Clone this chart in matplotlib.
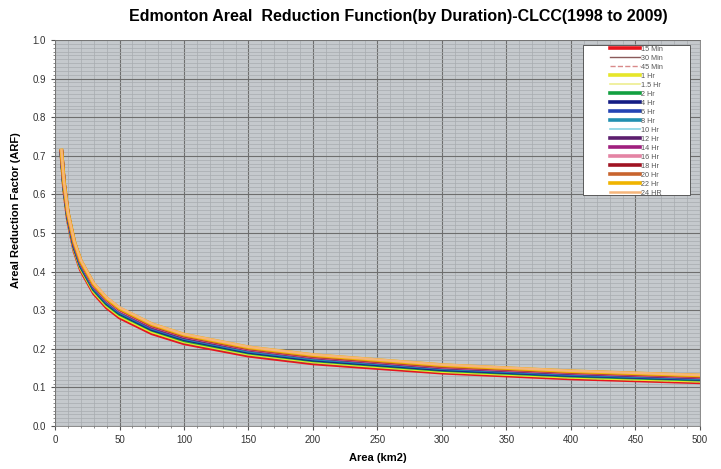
import matplotlib
matplotlib.use('Agg')
import matplotlib.pyplot as plt
from matplotlib.ticker import MultipleLocator
from matplotlib.patches import Rectangle

plt.rcParams['font.family'] = ['Liberation Sans', 'DejaVu Sans']

# Area points (km2) where the curves were read
area = [5, 7, 10, 15, 20, 30, 40, 50, 75, 100, 150, 200, 300, 400, 500]

# ARF values per duration
arf_15min = [0.700, 0.613, 0.532, 0.453, 0.404, 0.344, 0.307, 0.281, 0.240, 0.214, 0.182, 0.162, 0.138, 0.123, 0.113]
arf_30min = [0.701, 0.614, 0.533, 0.455, 0.406, 0.346, 0.309, 0.283, 0.242, 0.215, 0.183, 0.163, 0.139, 0.124, 0.114]
arf_45min = [0.702, 0.615, 0.535, 0.456, 0.407, 0.347, 0.310, 0.284, 0.243, 0.217, 0.185, 0.165, 0.141, 0.125, 0.115]
arf_1hr = [0.703, 0.617, 0.536, 0.458, 0.409, 0.349, 0.312, 0.286, 0.245, 0.219, 0.187, 0.167, 0.142, 0.127, 0.117]
arf_1_5hr = [0.704, 0.618, 0.538, 0.460, 0.411, 0.351, 0.314, 0.288, 0.247, 0.221, 0.188, 0.168, 0.144, 0.128, 0.118]
arf_2hr = [0.705, 0.620, 0.540, 0.462, 0.413, 0.353, 0.316, 0.290, 0.249, 0.222, 0.190, 0.170, 0.145, 0.130, 0.120]
arf_4hr = [0.707, 0.622, 0.542, 0.464, 0.416, 0.356, 0.319, 0.293, 0.251, 0.225, 0.192, 0.172, 0.147, 0.132, 0.122]
arf_6hr = [0.708, 0.623, 0.543, 0.466, 0.418, 0.358, 0.321, 0.295, 0.253, 0.227, 0.194, 0.174, 0.149, 0.133, 0.123]
arf_8hr = [0.709, 0.624, 0.545, 0.468, 0.419, 0.359, 0.322, 0.296, 0.255, 0.228, 0.195, 0.175, 0.150, 0.135, 0.124]
arf_10hr = [0.709, 0.625, 0.546, 0.469, 0.420, 0.360, 0.323, 0.297, 0.256, 0.229, 0.196, 0.176, 0.151, 0.136, 0.125]
arf_12hr = [0.710, 0.626, 0.547, 0.470, 0.422, 0.362, 0.325, 0.299, 0.257, 0.230, 0.198, 0.178, 0.152, 0.137, 0.126]
arf_14hr = [0.711, 0.627, 0.548, 0.471, 0.423, 0.363, 0.326, 0.300, 0.258, 0.232, 0.199, 0.179, 0.153, 0.138, 0.127]
arf_16hr = [0.712, 0.628, 0.549, 0.473, 0.424, 0.364, 0.327, 0.301, 0.260, 0.233, 0.200, 0.180, 0.154, 0.139, 0.128]
arf_18hr = [0.712, 0.629, 0.550, 0.474, 0.426, 0.366, 0.329, 0.303, 0.261, 0.234, 0.201, 0.181, 0.155, 0.140, 0.129]
arf_20hr = [0.713, 0.630, 0.551, 0.475, 0.427, 0.367, 0.330, 0.304, 0.262, 0.235, 0.202, 0.182, 0.156, 0.141, 0.130]
arf_22hr = [0.714, 0.631, 0.553, 0.477, 0.428, 0.368, 0.331, 0.305, 0.264, 0.237, 0.204, 0.184, 0.158, 0.142, 0.131]
arf_24hr = [0.715, 0.632, 0.554, 0.478, 0.430, 0.370, 0.333, 0.307, 0.265, 0.238, 0.205, 0.185, 0.159, 0.143, 0.132]

labels = ['15 Min', '30 Min', '45 Min', '1 Hr', '1.5 Hr', '2 Hr', '4 Hr', '6 Hr', '8 Hr',
          '10 Hr', '12 Hr', '14 Hr', '16 Hr', '18 Hr', '20 Hr', '22 Hr', '24 HR']
series = [arf_15min, arf_30min, arf_45min, arf_1hr, arf_1_5hr, arf_2hr, arf_4hr, arf_6hr, arf_8hr,
          arf_10hr, arf_12hr, arf_14hr, arf_16hr, arf_18hr, arf_20hr, arf_22hr, arf_24hr]
colors = ['#e8141c', '#8a5a5a', '#d98a8a', '#e6e62a', '#eeee90', '#12a040', '#141c84', '#2444b4',
          '#2290b0', '#86d4e4', '#5c1e6e', '#a0207e', '#e484a4', '#a01422', '#c8642e', '#f0b400', '#f5b57a']
widths = [2.6, 1.0, 1.0, 2.6, 1.2, 2.6, 2.6, 2.6, 2.6, 1.2, 2.6, 2.6, 2.6, 2.6, 2.6, 2.6, 1.8]
styles = ['-', '-', '--', '-', '-', '-', '-', '-', '-', '-', '-', '-', '-', '-', '-', '-', '-']

fig = plt.figure(figsize=(7.21, 4.69), dpi=100)
ax = fig.add_axes([0.0763, 0.0917, 0.8945, 0.823])
ax.set_facecolor('#c5c9cd')

for vals, lab, col, lw, ls in zip(series, labels, colors, widths, styles):
    ax.plot(area, vals, color=col, linewidth=lw, linestyle=ls, label=lab)

ax.set_xlim(0, 500)
ax.set_ylim(0, 1.0)
ax.xaxis.set_major_locator(MultipleLocator(50))
ax.xaxis.set_minor_locator(MultipleLocator(10))
ax.yaxis.set_major_locator(MultipleLocator(0.1))
ax.set_yticks([i / 100 for i in range(0, 101)], minor=True)
ax.yaxis.set_major_formatter(plt.FormatStrFormatter('%.1f'))

# grid
ax.grid(which='major', color='#6e6e6e', linewidth=0.8)
ax.grid(which='minor', color='#a8acb0', linewidth=0.5)
ax.set_axisbelow(True)

ax.tick_params(which='major', labelsize=7, labelcolor='#333333', length=3, color='#555555')
ax.tick_params(which='minor', length=1.5, color='#777777')
for s in ax.spines.values():
    s.set_color('#777777')
    s.set_linewidth(0.6)

ax.set_xlabel('Area (km2)', fontsize=8, fontweight='bold', labelpad=6)
ax.set_ylabel('Areal Reduction Factor (ARF)', fontsize=8, fontweight='bold', labelpad=8)
ax.yaxis.set_label_coords(-0.052, 0.56)
fig.text(0.553, 0.964, 'Edmonton Areal  Reduction Function(by Duration)-CLCC(1998 to 2009)',
         ha='center', va='center', fontsize=11.5, fontweight='bold')

# white legend box, wider than its content like the original
ax.add_patch(Rectangle((0.8186, 0.598), 0.166, 0.389, transform=ax.transAxes,
                       facecolor='white', edgecolor='#444444', linewidth=0.6, zorder=5))
leg = ax.legend(loc='upper center', bbox_to_anchor=(0.9016, 0.985), fontsize=5.2, handlelength=4.2,
                handletextpad=0.2, labelspacing=0.27, borderpad=0.0, frameon=False, borderaxespad=0)
leg.set_zorder(6)
for t in leg.get_texts():
    t.set_color('#555555')

fig.savefig('out.png', dpi=100)
